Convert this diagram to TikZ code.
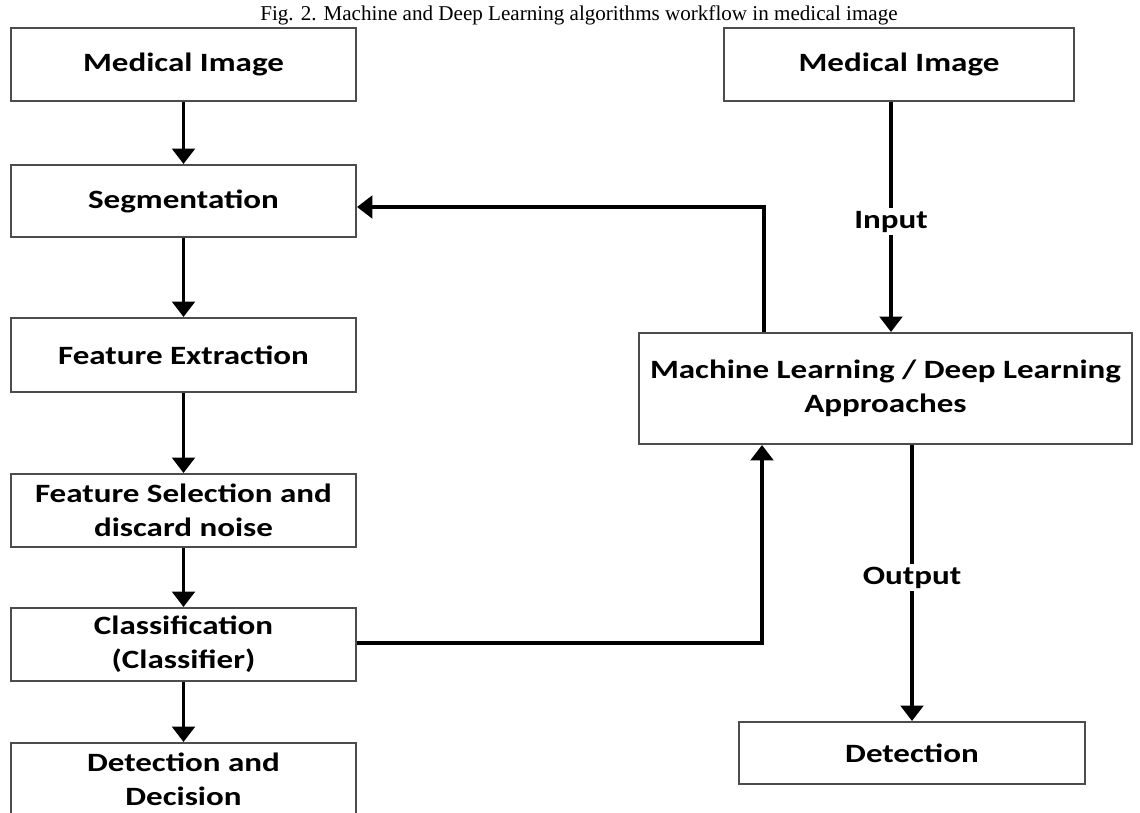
\documentclass[tikz,border=0pt]{standalone}
\usepackage{fontspec}
\usepackage{tikz}
\usetikzlibrary{arrows.meta}
\setmainfont{Liberation Serif}
\newfontfamily\boxfont{Carlito}[FakeStretch=1.25]
\newcommand\pxu{0.025cm}

\begin{document}
\begin{tikzpicture}[x=0.025cm, y=-0.025cm,
    stagebox/.style={draw=black!70, line width=1.4pt, fill=white, align=center,
        font=\boxfont\bfseries\fontsize{18.8}{24.2}\selectfont, inner sep=0pt},
    flowarrow/.style={line width=2.8pt, -{Triangle[width=16pt, length=11pt]}},
    flowlabel/.style={fill=white, inner sep=2pt,
        font=\boxfont\bfseries\fontsize{18.8}{24.2}\selectfont}]
    \useasboundingbox (0,0) rectangle (1140,813);

    % Caption
    \node[anchor=base, font=\fontsize{15}{18}\selectfont] (caption) at (579,21)
        {Fig. 2. Machine and Deep Learning algorithms workflow in medical image};

    % Draw nodes
    \node[stagebox, minimum width=345*\pxu, minimum height=73*\pxu] (image) at (183.5,64.5) {Medical Image};
    \node[stagebox, minimum width=345*\pxu, minimum height=72*\pxu] (segment) at (183.5,201) {Segmentation};
    \node[stagebox, minimum width=345*\pxu, minimum height=74*\pxu] (extract) at (183.5,355) {Feature Extraction};
    \node[stagebox, minimum width=345*\pxu, minimum height=73*\pxu] (select) at (183.5,510.5) {Feature Selection and\\discard noise};
    \node[stagebox, minimum width=345*\pxu, minimum height=73*\pxu] (classify) at (183.5,644.5) {Classification\\(Classifier)};
    \node[stagebox, minimum width=345*\pxu, minimum height=72*\pxu] (decide) at (183.5,779) {Detection and\\Decision};

    \node[stagebox, minimum width=350*\pxu, minimum height=73*\pxu] (image2) at (899,64.5) {Medical Image};
    \node[stagebox, minimum width=493*\pxu, minimum height=111*\pxu] (approach) at (885.5,388.5) {Machine Learning / Deep Learning\\Approaches};
    \node[stagebox, minimum width=346*\pxu, minimum height=62*\pxu] (detect) at (912,753) {Detection};

    % Turning points
    \coordinate (inx) at (891,0);
    \coordinate (outx) at (912,0);
    \coordinate (back) at (764,207);
    \coordinate (up) at (762,643);

    % Draw connections
    \draw[flowarrow] (image) -- (segment);
    \draw[flowarrow] (segment) -- (extract);
    \draw[flowarrow] (extract) -- (select);
    \draw[flowarrow] (select) -- (classify);
    \draw[flowarrow] (classify) -- (decide);

    \draw[flowarrow] (image2.south -| inx) -- (approach.north -| inx)
        node[pos=0.52, flowlabel] {Input};
    \draw[flowarrow] (approach.south -| outx) -- (detect.north -| outx)
        node[pos=0.48, flowlabel] {Output};
    \draw[flowarrow] (approach.north -| back) -- (back) -- (back -| segment.east);
    \draw[flowarrow] (classify.east |- up) -- (up) -- (approach.south -| up);
\end{tikzpicture}
\end{document}
